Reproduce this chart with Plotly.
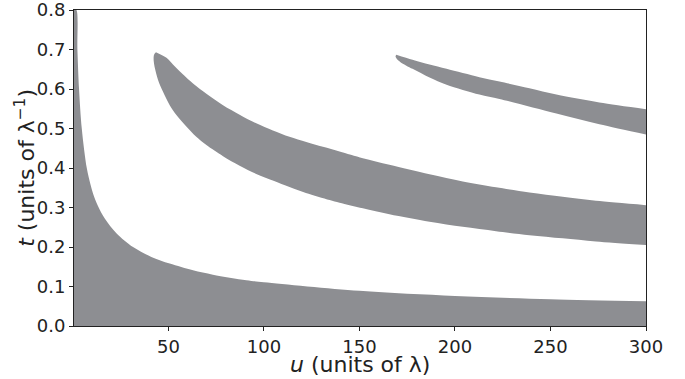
import plotly.graph_objects as go

# Region 1: area below the lowest boundary curve (filled down to t = 0)
low_u = [0.6, 1.82, 2.38, 3.24, 4.67, 7.29, 9.2, 10.6, 13.2, 16.7, 22.8, 31.5, 41.1, 50.7, 62.9, 73.3, 90.8, 100, 150, 200, 250, 300]
low_t = [0.8, 0.8, 0.7, 0.6, 0.5, 0.4, 0.359, 0.335, 0.303, 0.272, 0.235, 0.200, 0.175, 0.158, 0.141, 0.130, 0.116, 0.111, 0.089, 0.076, 0.068, 0.0625]

# Region 2: middle band, both edges traced from the tip to the right
mid_lower_u = [43.5, 42.5, 42.3, 42.8, 44.6, 47.2, 50.7, 54.2, 59.4, 64.6, 69.9, 78.6, 87.3, 96, 105, 113.4, 122, 134.4, 139.6, 151.8, 165.7, 186.7, 204.1, 221.5, 239, 256.4, 273.8, 300]
mid_lower_t = [0.693, 0.687, 0.672, 0.656, 0.623, 0.593, 0.559, 0.534, 0.505, 0.479, 0.458, 0.430, 0.406, 0.385, 0.368, 0.352, 0.337, 0.319, 0.312, 0.298, 0.283, 0.264, 0.251, 0.240, 0.230, 0.222, 0.214, 0.205]
mid_upper_u = [43.5, 49, 52.4, 55.9, 62.9, 69.9, 78.6, 87.3, 96, 104.7, 113.4, 122.2, 130.9, 139.6, 151.8, 165.7, 186.7, 204.1, 221.5, 239, 256.4, 273.8, 300]
mid_upper_t = [0.693, 0.679, 0.662, 0.645, 0.614, 0.588, 0.559, 0.535, 0.513, 0.495, 0.479, 0.466, 0.4535, 0.442, 0.425, 0.408, 0.384, 0.366, 0.351, 0.338, 0.327, 0.317, 0.306]

# Region 3: upper band, both edges traced from the tip to the right
top_lower_u = [169.3, 168.9, 169.6, 171.5, 177.8, 186.7, 195.6, 212.8, 223.3, 253.1, 275.6, 300]
top_lower_t = [0.687, 0.683, 0.676, 0.668, 0.651, 0.629, 0.611, 0.586, 0.575, 0.538, 0.511, 0.485]
top_upper_u = [169.3, 177.8, 186.7, 195.6, 212.8, 223.3, 239, 253.1, 275.6, 300]
top_upper_t = [0.687, 0.674, 0.662, 0.651, 0.630, 0.619, 0.602, 0.586, 0.566, 0.549]

x_ticks = [50, 100, 150, 200, 250, 300]
y_ticks = [0.0, 0.1, 0.2, 0.3, 0.4, 0.5, 0.6, 0.7, 0.8]

GRAY = "#8d8e92"
TXT = "#222222"
SM = 0.9

fig = go.Figure()
fig.add_trace(go.Scatter(
    x=low_u, y=low_t, mode="lines", fill="tozeroy",
    line=dict(color=GRAY, width=0, shape="spline", smoothing=SM),
    fillcolor=GRAY, hoverinfo="skip", showlegend=False))
for lu, lt, uu, ut in [(mid_lower_u, mid_lower_t, mid_upper_u, mid_upper_t),
                       (top_lower_u, top_lower_t, top_upper_u, top_upper_t)]:
    fig.add_trace(go.Scatter(
        x=lu, y=lt, mode="lines",
        line=dict(color=GRAY, width=0, shape="spline", smoothing=SM),
        hoverinfo="skip", showlegend=False))
    fig.add_trace(go.Scatter(
        x=uu, y=ut, mode="lines", fill="tonexty",
        line=dict(color=GRAY, width=0, shape="spline", smoothing=SM),
        fillcolor=GRAY, hoverinfo="skip", showlegend=False))

axis_common = dict(
    showline=True, linecolor=TXT, linewidth=1, mirror=True,
    ticks="outside", ticklen=4, tickwidth=1, tickcolor=TXT,
    showgrid=False, zeroline=False, automargin=False,
    ticklabeloverflow="allow",
    tickfont=dict(family="DejaVu Sans", size=18, color=TXT),
)
fig.update_xaxes(range=[0.6, 300], tickvals=x_ticks, **axis_common)
fig.update_yaxes(range=[0, 0.8], tickvals=y_ticks, tickformat=".1f", **axis_common)

fig.add_annotation(text="<i>u</i> (units of λ)", xref="paper", yref="paper",
                   x=0.5, y=-0.123, xanchor="center", yanchor="middle", showarrow=False,
                   font=dict(family="DejaVu Sans", size=22, color=TXT))
fig.add_annotation(text="<i>t</i> (units of λ<sup>−1</sup>)", xref="paper", yref="paper",
                   x=-0.086, y=0.5, xanchor="center", yanchor="middle", showarrow=False,
                   textangle=-90, font=dict(family="DejaVu Sans", size=22, color=TXT))

fig.update_layout(width=685, height=379, margin=dict(l=74, r=39, t=10, b=53),
                  plot_bgcolor="white", paper_bgcolor="white")
fig.write_html("out.html", config={"displayModeBar": False},
               post_script="document.body.style.margin='0';")
